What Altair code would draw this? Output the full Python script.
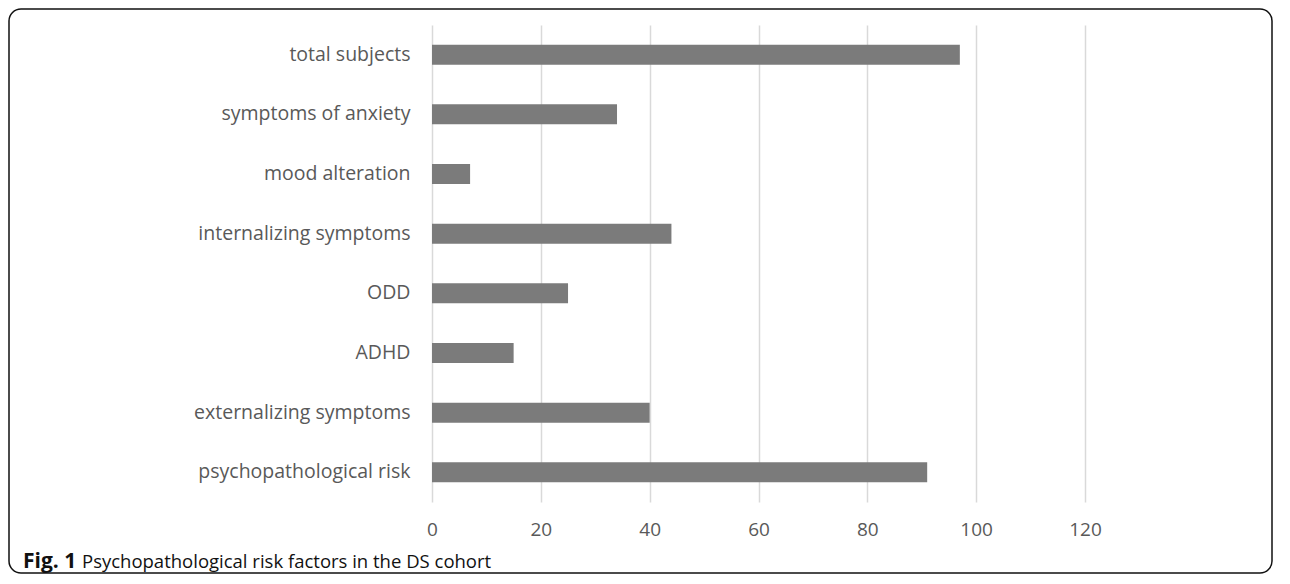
import altair as alt
import pandas as pd

categories = [
    "total subjects",
    "symptoms of anxiety",
    "mood alteration",
    "internalizing symptoms",
    "ODD",
    "ADHD",
    "externalizing symptoms",
    "psychopathological risk",
]
values = [97, 34, 7, 44, 25, 15, 40, 91]
x_ticks = [0, 20, 40, 60, 80, 100, 120]
caption_bold = "Fig. 1"
caption_text = "Psychopathological risk factors in the DS cohort"

df = pd.DataFrame({"category": categories, "value": values})

FONT = "Open Sans"

frame = alt.Chart(pd.DataFrame({"k": [0]})).mark_rect(
    fill=None, fillOpacity=0, stroke="#111111", strokeWidth=1.5, cornerRadius=12
).encode(
    x=alt.value(-423), x2=alt.value(840), y=alt.value(-16), y2=alt.value(548)
)

bars = alt.Chart(df).mark_bar(color="#7b7b7b").encode(
    x=alt.X(
        "value:Q",
        scale=alt.Scale(domain=[0, 120], nice=False),
        axis=alt.Axis(
            values=x_ticks, title=None, grid=True, gridColor="#d9d9d9", gridWidth=1.5,
            domain=False, ticks=False, labelFont=FONT, labelFontSize=19,
            labelColor="#595959", labelPadding=18, labelFlush=False,
        ),
    ),
    y=alt.Y(
        "category:N",
        sort=categories,
        scale=alt.Scale(paddingInner=0.665, paddingOuter=0.33),
        axis=alt.Axis(
            title=None, domain=False, ticks=False, grid=False, labelFont=FONT,
            labelFontSize=19.5, labelColor="#595959", labelPadding=22, labelLimit=400,
        ),
    ),
)

cap1 = alt.Chart(pd.DataFrame({"t": [caption_bold]})).mark_text(
    align="left", baseline="middle", font=FONT, fontSize=21, fontWeight="bold", color="#111111"
).encode(x=alt.value(-409), y=alt.value(537), text="t:N")

cap2 = alt.Chart(pd.DataFrame({"t": [caption_text]})).mark_text(
    align="left", baseline="middle", font=FONT, fontSize=18.5, color="#111111"
).encode(x=alt.value(-350), y=alt.value(537), text="t:N")

chart = alt.layer(frame, bars, cap1, cap2).properties(
    width=653,
    height=477,
    autosize=alt.AutoSizeParams(type="none"),
    padding={"left": 424, "top": 17, "right": 195, "bottom": 72},
).configure_view(stroke=None)

chart.save("out.html", embed_options={"renderer": "svg", "actions": False})
